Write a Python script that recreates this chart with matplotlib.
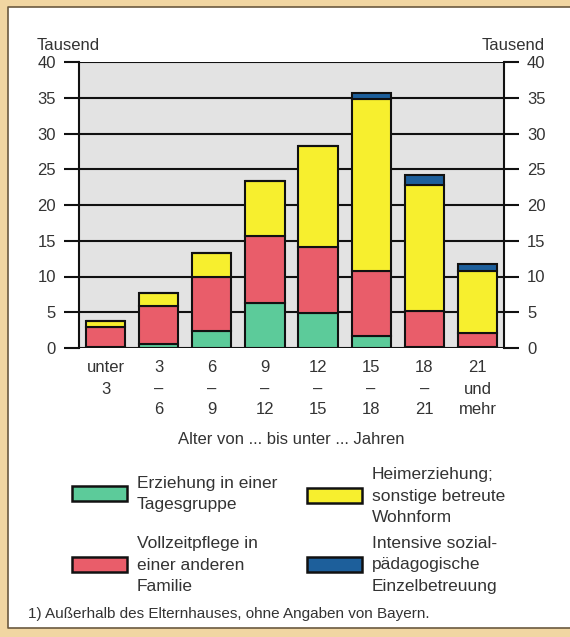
import numpy as np
import matplotlib
matplotlib.use("Agg")
import matplotlib.pyplot as plt
from matplotlib.patches import Rectangle
from matplotlib.lines import Line2D

plt.rcParams['font.family'] = ['Liberation Sans', 'DejaVu Sans']

# data (Tausend)
age_labels = ["unter\n3", "3\n–\n6", "6\n–\n9", "9\n–\n12", "12\n–\n15",
              "15\n–\n18", "18\n–\n21", "21\nund\nmehr"]
tagesgruppe = [0.1, 0.6, 2.4, 6.3, 4.9, 1.7, 0.1, 0.1]
vollzeitpflege = [2.9, 5.3, 7.5, 9.3, 9.2, 9.1, 5.1, 2.0]
heimerziehung = [0.8, 1.8, 3.4, 7.7, 14.1, 24.0, 17.6, 8.7]
einzelbetreuung = [0, 0, 0, 0, 0, 0.9, 1.4, 0.9]

series_names = ["Erziehung in einer\nTagesgruppe",
                "Vollzeitpflege in\neiner anderen\nFamilie",
                "Heimerziehung;\nsonstige betreute\nWohnform",
                "Intensive sozial-\npädagogische\nEinzelbetreuung"]
colors = ['#5ccb9a', '#e95d6a', '#f7ef2e', '#1d5f9b']
yticks = [0, 5, 10, 15, 20, 25, 30, 35, 40]

W, H = 570, 637
fig = plt.figure(figsize=(W / 100, H / 100), dpi=100)
fig.patch.set_facecolor('#f1d6a2')

def px(x0, y0, x1, y1):
    # figure-fraction rectangle from pixel box (top-left origin)
    return (x0 / W, 1 - y1 / H), (x1 - x0) / W, (y1 - y0) / H

# white panel inside the beige frame, open on the right
xy, w, h = px(8, 7, 570, 628)
fig.add_artist(Rectangle(xy, w, h, transform=fig.transFigure, facecolor='white',
                         edgecolor='none', zorder=0))
fig.add_artist(Line2D([1.0, 8 / W, 8 / W, 1.0], [1 - 7 / H, 1 - 7 / H, 1 - 628 / H, 1 - 628 / H],
                      transform=fig.transFigure, color='#6b5a40', lw=1.2, zorder=0.5))

ax = fig.add_axes([79 / W, 1 - 348 / H, (504 - 79) / W, (348 - 62) / H])
ax.set_facecolor('#e3e3e3')

x = np.arange(len(age_labels))
bottom = np.zeros(len(x))
for vals, c in zip([tagesgruppe, vollzeitpflege, heimerziehung, einzelbetreuung], colors):
    ax.bar(x, vals, width=0.74, bottom=bottom, color=c, edgecolor='#111111', lw=1.5, zorder=3)
    bottom += np.array(vals)

ax.set_xlim(-0.5, 7.5)
ax.set_ylim(0, 40)
ax.set_yticks(yticks)
ax.grid(axis='y', color='#111111', lw=1.5, zorder=1)
ax.set_axisbelow(True)
for s in ['top', 'bottom']:
    ax.spines[s].set_visible(False)
for s in ['left', 'right']:
    ax.spines[s].set_linewidth(1.5)
    ax.spines[s].set_color('#111111')
ax.tick_params(axis='y', which='both', left=True, right=True, labelleft=True, labelright=True,
               length=10.5, width=1.5, color='#111111', pad=6, labelsize=12, labelcolor='#333333')
ax.set_xticks(x)
ax.set_xticklabels(age_labels, fontsize=12, color='#333333')
ax.tick_params(axis='x', length=0, pad=9)
for t in ax.get_xticklabels():
    t.set_linespacing(1.5)
    t.set_verticalalignment('top')

fig.text(37 / W, 1 - 45 / H, "Tausend", ha='left', va='center', fontsize=12, color='#333333')
fig.text(545 / W, 1 - 45 / H, "Tausend", ha='right', va='center', fontsize=12, color='#333333')
fig.text(291 / W, 1 - 440 / H, "Alter von ... bis unter ... Jahren", ha='center', va='center',
         fontsize=12, color='#333333')

# legend drawn by hand, two columns
leg_boxes = [(72, 486), (72, 557), (307, 488), (307, 557)]
leg_text_y = [494, 565, 496, 565]
for name, c, (lx, ly), ty in zip(series_names, colors, leg_boxes, leg_text_y):
    xy, w, h = px(lx, ly, lx + 55, ly + 15)
    fig.add_artist(Rectangle(xy, w, h, transform=fig.transFigure, facecolor=c,
                             edgecolor='#111111', lw=1.8))
    fig.text((lx + 65) / W, 1 - ty / H, name, ha='left', va='center', fontsize=12.5,
             linespacing=1.55, color='#333333')

fig.text(28 / W, 1 - 614 / H, "1) Außerhalb des Elternhauses, ohne Angaben von Bayern.",
         ha='left', va='center', fontsize=11, color='#333333')

fig.savefig("out.png", dpi=100, facecolor=fig.get_facecolor())
